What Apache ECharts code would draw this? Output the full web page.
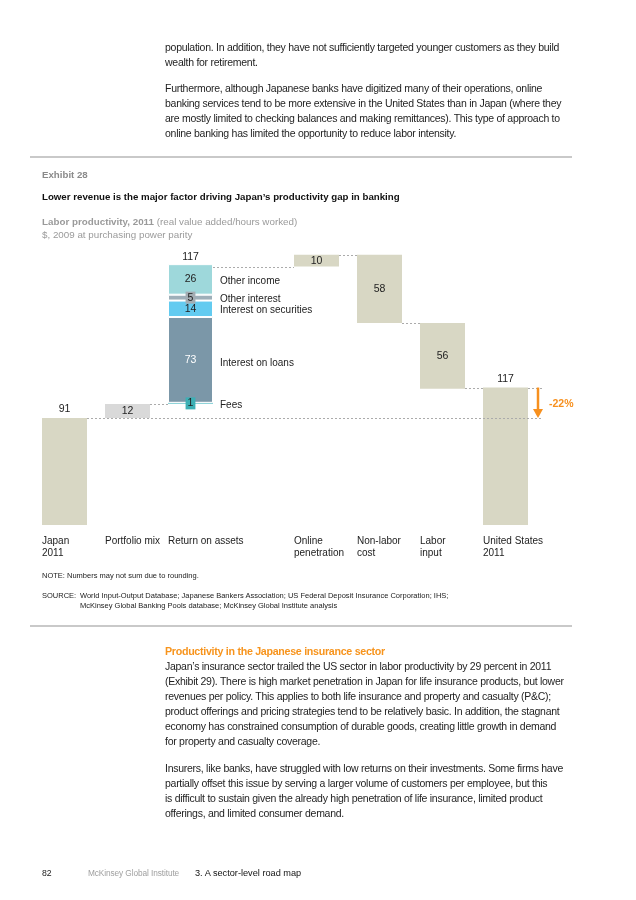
<!DOCTYPE html>
<html><head><meta charset="utf-8">
<script src="https://cdn.jsdelivr.net/npm/echarts@6/dist/echarts.min.js"></script>
<style>
html,body{margin:0;padding:0;background:#fff;}
#page{position:relative;width:636px;height:900px;overflow:hidden;font-family:"Liberation Sans",Arial,Helvetica,sans-serif;}
#chart{position:absolute;left:0;top:0;width:636px;height:900px;}
.t{position:absolute;white-space:nowrap;}
.body{left:165px;font-size:10.5px;line-height:15px;color:#1e1e1e;letter-spacing:-0.27px;}
.rule{position:absolute;left:30px;width:542px;height:2px;background:#c9c9c9;}
.hd{left:42px;font-size:9.7px;line-height:12px;}
.small{font-size:7.5px;line-height:10px;color:#222;}
</style></head>
<body>
<div id="page">
<div id="chart"></div>
<div class="t body" style="top:40px">population. In addition, they have not sufficiently targeted younger customers as they build<br>wealth for retirement.</div>
<div class="t body" style="top:80.5px">Furthermore, although Japanese banks have digitized many of their operations, online<br>banking services tend to be more extensive in the United States than in Japan (where they<br>are mostly limited to checking balances and making remittances). This type of approach to<br>online banking has limited the opportunity to reduce labor intensity.</div>
<div class="rule" style="top:156px"></div>
<div class="t hd" style="top:169px;color:#8a8a8a;font-weight:bold">Exhibit 28</div>
<div class="t hd" style="top:191px;color:#111;font-weight:bold">Lower revenue is the major factor driving Japan’s productivity gap in banking</div>
<div class="t hd" style="top:215px;color:#9a9a9a;line-height:13px;font-size:9.8px"><b>Labor productivity, 2011</b> (real value added/hours worked)<br>$, 2009 at purchasing power parity</div>
<div class="t small" style="left:42px;top:571px">NOTE: Numbers may not sum due to rounding.</div>
<div class="t small" style="left:42px;top:591px">SOURCE:</div>
<div class="t small" style="left:80px;top:591px">World Input-Output Database; Japanese Bankers Association; US Federal Deposit Insurance Corporation; IHS;<br>McKinsey Global Banking Pools database; McKinsey Global Institute analysis</div>
<div class="rule" style="top:625px"></div>
<div class="t body" style="top:643.5px"><span style="color:#f7941d;font-weight:bold;font-size:10.7px;letter-spacing:-0.3px">Productivity in the Japanese insurance sector</span><br>Japan’s insurance sector trailed the US sector in labor productivity by 29 percent in 2011<br>(Exhibit 29). There is high market penetration in Japan for life insurance products, but lower<br>revenues per policy. This applies to both life insurance and property and casualty (P&amp;C);<br>product offerings and pricing strategies tend to be relatively basic. In addition, the stagnant<br>economy has constrained consumption of durable goods, creating little growth in demand<br>for property and casualty coverage.</div>
<div class="t body" style="top:760.5px">Insurers, like banks, have struggled with low returns on their investments. Some firms have<br>partially offset this issue by serving a larger volume of customers per employee, but this<br>is difficult to sustain given the already high penetration of life insurance, limited product<br>offerings, and limited consumer demand.</div>
<div class="t" style="left:42px;top:868px;font-size:8.7px;color:#222">82</div>
<div class="t" style="left:88px;top:868px;font-size:8.3px;color:#a0a0a0;letter-spacing:-0.1px">McKinsey Global Institute</div>
<div class="t" style="left:195px;top:867.5px;font-size:9.2px;color:#111">3. A sector-level road map</div>
</div>
<script>
// ---- data ----
const categories = ['Japan\n2011', 'Portfolio mix', 'Return on assets', '', 'Online\npenetration', 'Non-labor\ncost', 'Labor\ninput', 'United States\n2011'];
const baseValues = [0, 91, 103, null, 220, 172, 116, 0];
const barValues = [91, 12, null, null, 10, 58, 56, 117];
const roaIndex = 2;
const roaSegments = ['Fees', 'Interest on loans', 'Interest on securities', 'Other interest', 'Other income'];
const roaValues = [1, 73, 14, 5, 26];
const roaTotal = 117;
const gapFrom = 117, gapTo = 91;
const gapLabel = '-22%';

// ---- styles ----
const beige = '#d8d7c4';
const barColors = [beige, '#d9d9d9', null, null, beige, beige, beige, beige];
const segColors = ['#8fd4d9', '#7b97a8', '#63cbf0', '#9eafb9', '#9ed8db'];
const FONT = '"Liberation Sans", Arial, Helvetica, sans-serif';
const BW = 45;

const chart = echarts.init(document.getElementById('chart'), null, {renderer: 'canvas'});

const series = [];
series.push({
  name: 'base', type: 'bar', stack: 'w', barWidth: BW, silent: true,
  itemStyle: {color: 'rgba(0,0,0,0)'}, data: baseValues
});
series.push({
  name: 'main', type: 'bar', stack: 'w', barWidth: BW,
  label: {show: true, fontSize: 10.5, fontFamily: FONT, color: '#222'},
  data: barValues.map((v, i) => v == null ? null : {
    value: v, itemStyle: {color: barColors[i]},
    label: {position: (i === 0 || i === 7) ? 'top' : 'inside', distance: 3}
  })
});
roaValues.forEach((v, k) => {
  const d = categories.map(() => null);
  const lab = {show: true, position: 'inside', fontSize: 10.5, fontFamily: FONT, color: '#222'};
  if (k === 0) { lab.backgroundColor = '#3cb0b5'; lab.padding = [1, 2, 0, 2]; }
  if (k === 3) { lab.backgroundColor = '#a3adb3'; lab.padding = [1, 2, 0, 2]; }
  if (k === 1) { lab.color = '#fff'; }
  d[roaIndex] = v;
  series.push({
    name: roaSegments[k], type: 'bar', stack: 'w', barWidth: BW,
    itemStyle: {color: segColors[k], borderColor: '#fff', borderWidth: k === 0 ? 0 : 1},
    label: lab, data: d
  });
});

chart.setOption({
  animation: false,
  grid: {left: 33, right: 99, top: 243, bottom: 375},
  xAxis: {type: 'category', data: categories, axisLine: {show: false}, axisTick: {show: false}, axisLabel: {show: false}},
  yAxis: {type: 'value', min: 0, max: 240, show: false, splitLine: {show: false}},
  series: series
});

const px = (i, v) => chart.convertToPixel({xAxisIndex: 0, yAxisIndex: 0}, [i, v]);
const hw = BW / 2;
const g = [];
const dash = {stroke: '#ababab', lineWidth: 1, lineDash: [2, 2]};
function hline(x1, x2, v, i) {
  const y = Math.round(px(i, v)[1]) + 0.5;
  g.push({type: 'line', z: 100, shape: {x1: x1, y1: y, x2: x2, y2: y}, style: dash});
}
const cx = i => px(i, 0)[0];
const arrowX = cx(7) + hw + 10;
// connectors
hline(cx(0) + hw, arrowX + 5, baseValues[1], 0);
hline(cx(1) + hw, cx(2) - hw, baseValues[2], 1);
hline(cx(2) + hw, cx(4) - hw, baseValues[4], 2);
hline(cx(4) + hw, cx(5) - hw, baseValues[4] + barValues[4], 4);
hline(cx(5) + hw, cx(6) - hw, baseValues[5], 5);
hline(cx(6) + hw, cx(7) - hw, barValues[7], 6);
hline(cx(7) + hw, arrowX + 5, barValues[7], 7);

// category labels
const y0 = px(0, 0)[1];
categories.forEach((c, i) => {
  if (!c) return;
  g.push({type: 'text', z: 100, style: {text: c, x: cx(i) - hw, y: y0 + 10, fill: '#222', fontSize: 10, fontFamily: FONT, lineHeight: 12, align: 'left', verticalAlign: 'top'}});
});

// RoA segment names
let cum = baseValues[roaIndex];
roaValues.forEach((v, k) => {
  const mid = cum + v / 2;
  cum += v;
  g.push({type: 'text', z: 100, style: {text: roaSegments[k], x: cx(roaIndex) + hw + 7, y: px(roaIndex, mid)[1] + (k === 1 ? 3 : 1.5), fill: '#222', fontSize: 10, fontFamily: FONT, align: 'left', verticalAlign: 'middle'}});
});
// RoA total
g.push({type: 'text', z: 100, style: {text: String(roaTotal), x: cx(roaIndex), y: px(roaIndex, cum)[1] - 2, fill: '#222', fontSize: 10.5, fontFamily: FONT, align: 'center', verticalAlign: 'bottom'}});

// gap arrow
const ya = px(7, gapFrom)[1], yb = px(7, gapTo)[1];
const orange = '#f7901e';
g.push({type: 'line', z: 101, shape: {x1: arrowX, y1: ya, x2: arrowX, y2: yb - 8}, style: {stroke: orange, lineWidth: 2.5}});
g.push({type: 'polygon', z: 101, shape: {points: [[arrowX - 5, yb - 9], [arrowX + 5, yb - 9], [arrowX, yb]]}, style: {fill: orange}});
g.push({type: 'text', z: 101, style: {text: gapLabel, x: arrowX + 11, y: (ya + yb) / 2 + 1, fill: orange, fontSize: 10.5, fontWeight: 'bold', fontFamily: FONT, align: 'left', verticalAlign: 'middle'}});

chart.setOption({graphic: g});
</script>
</body></html>
